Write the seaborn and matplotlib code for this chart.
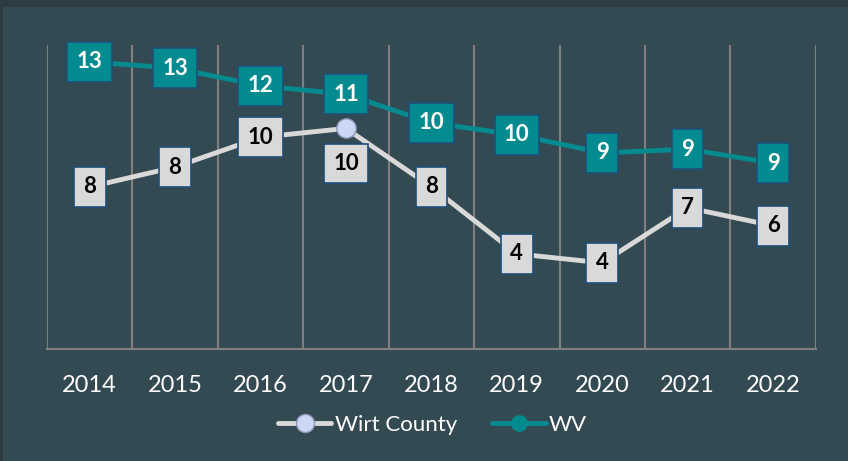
import pandas as pd
import numpy as np
import matplotlib.pyplot as plt
import seaborn as sns
from matplotlib.patches import Rectangle
from matplotlib.lines import Line2D

sns.set_style('white')
plt.rcParams['font.family'] = ['Lato', 'DejaVu Sans']

years = ['2014', '2015', '2016', '2017', '2018', '2019', '2020', '2021', '2022']
wirt = [7.34, 8.24, 9.59, 9.99, 7.34, 4.31, 3.90, 6.40, 5.58]
wv = [13.0, 12.72, 11.92, 11.54, 10.24, 9.70, 8.88, 9.05, 8.42]
wirt_labels = ['8', '8', '10', '10', '8', '4', '4', '7', '6']
wv_labels = ['13', '13', '12', '11', '10', '10', '9', '9', '9']

bg = '#344a52'
teal = '#038b8f'
light = '#d9d9d9'
edge_blue = '#1f4e79'
grid_c = '#7f7f7f'

df = pd.DataFrame({'year': years * 2,
                   'value': wirt + wv,
                   'area': ['Wirt County'] * len(years) + ['WV'] * len(years)})
df['x'] = df.groupby('area').cumcount()

fig = plt.figure(figsize=(8.48, 4.61), dpi=100)
fig.patch.set_facecolor('#2d3b43')
fig.patches.append(Rectangle((0.004, 0), 1, 0.985, transform=fig.transFigure,
                             facecolor=bg, edgecolor='none', zorder=-10))
ax = fig.add_axes([0.0554, 0.243, 0.9066, 0.659])
ax.set_zorder(1)
ax.set_facecolor(bg)

sns.lineplot(data=df, x='x', y='value', hue='area', palette={'Wirt County': light, 'WV': teal},
             linewidth=3.5, legend=False, ax=ax, zorder=3)

# marker only visible for Wirt 2017 (others covered by labels)
ax.plot(3, wirt[3], 'o', ms=14, mfc='#cad8f6', mec='#8e96b8', mew=1, zorder=4)

for i in range(len(years)):
    ax.text(i, wv[i], wv_labels[i], ha='center', va='center', color='white',
            fontsize=16, fontweight='bold', zorder=5,
            bbox=dict(boxstyle='square,pad=0.42', fc=teal, ec=edge_blue, lw=1.2))
    yoff = -35 if i == 3 else 0
    ax.annotate(wirt_labels[i], (i, wirt[i]), xytext=(0, yoff), textcoords='offset pixels',
                ha='center', va='center', color='black', fontsize=16, fontweight='bold', zorder=5,
                bbox=dict(boxstyle='square,pad=0.42', fc=light, ec=edge_blue, lw=1.2))

ax.set_xlim(-0.5, len(years) - 0.5)
ax.set_ylim(0, 13.76)
ax.set_xticks(range(len(years)))
ax.set_xticklabels(years, color='white', fontsize=17)
ax.set_xticks(np.arange(-0.5, len(years), 1), minor=True)
ax.tick_params(axis='x', which='major', length=0, pad=19)
ax.tick_params(axis='x', which='minor', length=8, color=grid_c, width=1.5)
ax.set_yticks([])
ax.grid(True, axis='x', which='minor', color=grid_c, lw=1.5)
ax.set_axisbelow(True)
for s in ['top', 'left', 'right']:
    ax.spines[s].set_visible(False)
ax.spines['bottom'].set_color(grid_c)
ax.spines['bottom'].set_linewidth(1.5)
ax.set_xlabel('')
ax.set_ylabel('')

handles = [Line2D([], [], color=light, lw=3.5, marker='o', ms=13, mfc='#cad8f6', mec='#8e96b8'),
           Line2D([], [], color=teal, lw=3.5, marker='o', ms=11, mfc=teal, mec=teal)]
fig.legend(handles, ['Wirt County', 'WV'], loc='center', bbox_to_anchor=(0.51, 0.078),
           ncol=2, frameon=False, fontsize=16, labelcolor='white', handlelength=2.4,
           handletextpad=0.15, columnspacing=1.6)

fig.savefig('out.png', dpi=100, facecolor=fig.get_facecolor())
